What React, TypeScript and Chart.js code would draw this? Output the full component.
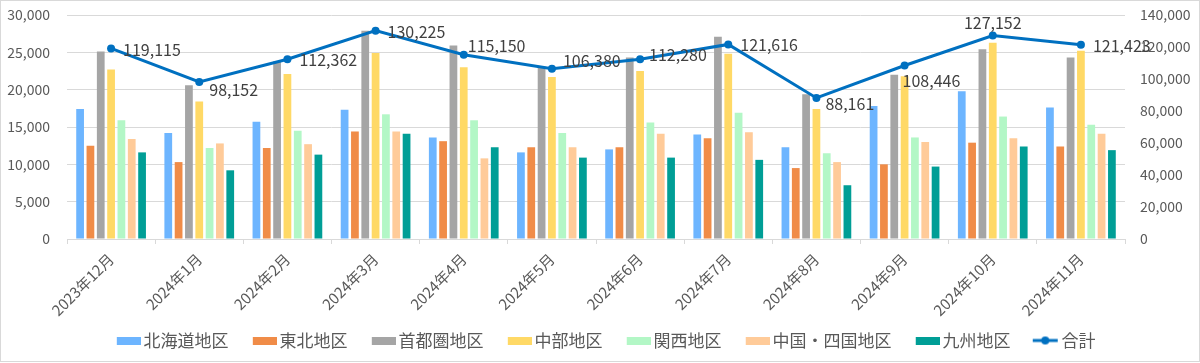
import { useEffect, useRef } from "react";
import { Chart, registerables } from "chart.js";

Chart.register(...registerables);

const months = [
  "2023年12月", "2024年1月", "2024年2月", "2024年3月", "2024年4月", "2024年5月",
  "2024年6月", "2024年7月", "2024年8月", "2024年9月", "2024年10月", "2024年11月",
];

const seriesNames = ["北海道地区", "東北地区", "首都圏地区", "中部地区", "関西地区", "中国・四国地区", "九州地区"];
const totalName = "合計";

const hokkaido = [17400, 14200, 15700, 17300, 13600, 11600, 12000, 14000, 12300, 17800, 19800, 17600];
const tohoku = [12500, 10300, 12200, 14400, 13100, 12300, 12300, 13500, 9500, 10000, 12900, 12400];
const shutoken = [25100, 20600, 23800, 27900, 25900, 23100, 24300, 27100, 19400, 22000, 25400, 24300];
const chubu = [22700, 18400, 22100, 24900, 23000, 21700, 22500, 24800, 17400, 21800, 26300, 25200];
const kansai = [15900, 12200, 14500, 16700, 15900, 14200, 15600, 16900, 11500, 13600, 16400, 15300];
const chugokuShikoku = [13400, 12800, 12700, 14400, 10800, 12300, 14100, 14300, 10300, 13000, 13500, 14100];
const kyushu = [11600, 9200, 11300, 14100, 12300, 10900, 10900, 10600, 7200, 9700, 12400, 11900];
const totals = [119115, 98152, 112362, 130225, 115150, 106380, 112280, 121616, 88161, 108446, 127152, 121423];

const leftTicks = { max: 30000, step: 5000 };
const rightTicks = { max: 140000, step: 20000 };

const barColors = ["#6DB5FF", "#F08C48", "#A5A5A5", "#FFD966", "#B3F7C6", "#FFCB99", "#009E96"];
const lineColor = "#0070C0";
const textColor = "#595959";
const font = '"Noto Sans CJK JP", "Noto Sans", sans-serif';

// label placement relative to each total point (style, not data)
const labelPlacement = [
  { dx: 12, dy: 2, align: "left" },
  { dx: 10, dy: 8, align: "left" },
  { dx: 12, dy: 1, align: "left" },
  { dx: 12, dy: 1, align: "left" },
  { dx: 4, dy: -9, align: "left" },
  { dx: 11, dy: -8, align: "left" },
  { dx: 9, dy: -4, align: "left" },
  { dx: 12, dy: 1, align: "left" },
  { dx: 9, dy: 6, align: "left" },
  { dx: -2, dy: 15, align: "left" },
  { dx: 0, dy: -13, align: "center" },
  { dx: 12, dy: 1, align: "left" },
];

const LEGEND_PAD = 12;
const LEGEND_BOX = 42.5 - LEGEND_PAD;
const ICON_W = 42;

function makeBoxIcon(color: string) {
  const c = document.createElement("canvas");
  c.width = ICON_W;
  c.height = 8;
  const ctx = c.getContext("2d")!;
  ctx.fillStyle = color;
  ctx.fillRect(ICON_W - 24, 0, 24, 8);
  return c;
}

function makeLineIcon(color: string) {
  const c = document.createElement("canvas");
  c.width = ICON_W;
  c.height = 10;
  const ctx = c.getContext("2d")!;
  const x0 = ICON_W - 26;
  ctx.strokeStyle = color;
  ctx.lineWidth = 3;
  ctx.beginPath();
  ctx.moveTo(x0, 5);
  ctx.lineTo(ICON_W - 1, 5);
  ctx.stroke();
  ctx.fillStyle = color;
  ctx.beginPath();
  ctx.arc(x0 + 12.5, 5, 4, 0, Math.PI * 2);
  ctx.fill();
  return c;
}

export default function App() {
  const canvasRef = useRef<HTMLCanvasElement | null>(null);

  useEffect(() => {
    if (!canvasRef.current) return;
    const barSeries = [hokkaido, tohoku, shutoken, chubu, kansai, chugokuShikoku, kyushu];
    const icons = [...barColors.map((c) => makeBoxIcon(c)), makeLineIcon(lineColor)];

    const frame = {
      id: "frame",
      beforeDraw(chart: any) {
        const { ctx, width, height } = chart;
        ctx.save();
        ctx.fillStyle = "#ffffff";
        ctx.fillRect(0, 0, width, height);
        ctx.strokeStyle = "#d9d9d9";
        ctx.lineWidth = 1;
        ctx.strokeRect(0.5, 0.5, width - 1, height - 2);
        ctx.restore();
      },
    };

    const totalLabels = {
      id: "totalLabels",
      afterDatasetsDraw(chart: any) {
        const idx = chart.data.datasets.length - 1;
        const meta = chart.getDatasetMeta(idx);
        const ctx = chart.ctx;
        ctx.save();
        ctx.font = `16px ${font}`;
        ctx.fillStyle = "#404040";
        ctx.textBaseline = "middle";
        meta.data.forEach((pt: any, i: number) => {
          const p = labelPlacement[i];
          const v = chart.data.datasets[idx].data[i] as number;
          ctx.textAlign = p.align;
          ctx.fillText(v.toLocaleString("en-US"), pt.x + p.dx, pt.y + p.dy);
        });
        ctx.restore();
      },
    };

    const chart = new Chart(canvasRef.current, {
      type: "bar",
      data: {
        labels: months,
        datasets: [
          ...barSeries.map((d, i) => ({
            type: "bar" as const,
            label: seriesNames[i],
            data: d,
            backgroundColor: barColors[i],
            borderWidth: 0,
            categoryPercentage: 0.82,
            barPercentage: 0.75,
            yAxisID: "y",
            order: 1,
          })),
          {
            type: "line" as const,
            label: totalName,
            data: totals,
            borderColor: lineColor,
            backgroundColor: lineColor,
            borderWidth: 3,
            pointRadius: 4,
            pointBackgroundColor: lineColor,
            pointBorderColor: lineColor,
            pointBorderWidth: 0,
            yAxisID: "y1",
            order: 0,
          },
        ] as any,
      },
      options: {
        responsive: false,
        animation: false,
        layout: { padding: { top: 15, left: 0, right: 0, bottom: 4 } },
        plugins: {
          tooltip: { enabled: false },
          legend: {
            position: "bottom",
            labels: {
              usePointStyle: true,
              pointStyleWidth: LEGEND_BOX,
              boxHeight: 8,
              padding: LEGEND_PAD,
              color: textColor,
              font: { family: font, size: 17 },
              generateLabels(chart: any) {
                const items = Chart.defaults.plugins.legend.labels.generateLabels(chart);
                return items
                  .slice()
                  .sort((a: any, b: any) => a.datasetIndex - b.datasetIndex)
                  .map((it: any) => ({ ...it, pointStyle: icons[it.datasetIndex], lineWidth: 0 }));
              },
            },
          },
        },
        scales: {
          x: {
            offset: true,
            grid: { offset: true, drawOnChartArea: false, drawTicks: true, tickLength: 5, color: "#d9d9d9" },
            border: { color: "#d9d9d9" },
            ticks: {
              minRotation: 45,
              maxRotation: 45,
              padding: 6,
              color: textColor,
              font: { family: font, size: 15 },
              autoSkip: false,
            },
            afterFit(scale: any) {
              scale.height = 81;
            },
          },
          y: {
            position: "left",
            min: 0,
            max: leftTicks.max,
            grid: { color: "#d9d9d9", drawTicks: false },
            border: { display: false },
            ticks: {
              stepSize: leftTicks.step,
              padding: 17,
              color: textColor,
              font: { family: font, size: 14 },
              callback: (v: any) => Number(v).toLocaleString("en-US"),
            },
            afterFit(scale: any) {
              scale.width = 67;
              scale.paddingTop = 0;
              scale.paddingBottom = 0;
            },
          },
          y1: {
            position: "right",
            min: 0,
            max: rightTicks.max,
            grid: { drawOnChartArea: false, drawTicks: false },
            border: { display: false },
            ticks: {
              stepSize: rightTicks.step,
              padding: 15,
              color: textColor,
              font: { family: font, size: 14 },
              callback: (v: any) => Number(v).toLocaleString("en-US"),
            },
            afterFit(scale: any) {
              scale.width = 75;
              scale.paddingTop = 0;
              scale.paddingBottom = 0;
            },
          },
        },
      } as any,
      plugins: [frame, totalLabels],
    });

    return () => chart.destroy();
  }, []);

  return (
    <div style={{ position: "absolute", left: 0, top: 0, width: 1200, height: 363, background: "#fff" }}>
      <canvas ref={canvasRef} width={1200} height={363} style={{ display: "block" }} />
    </div>
  );
}
